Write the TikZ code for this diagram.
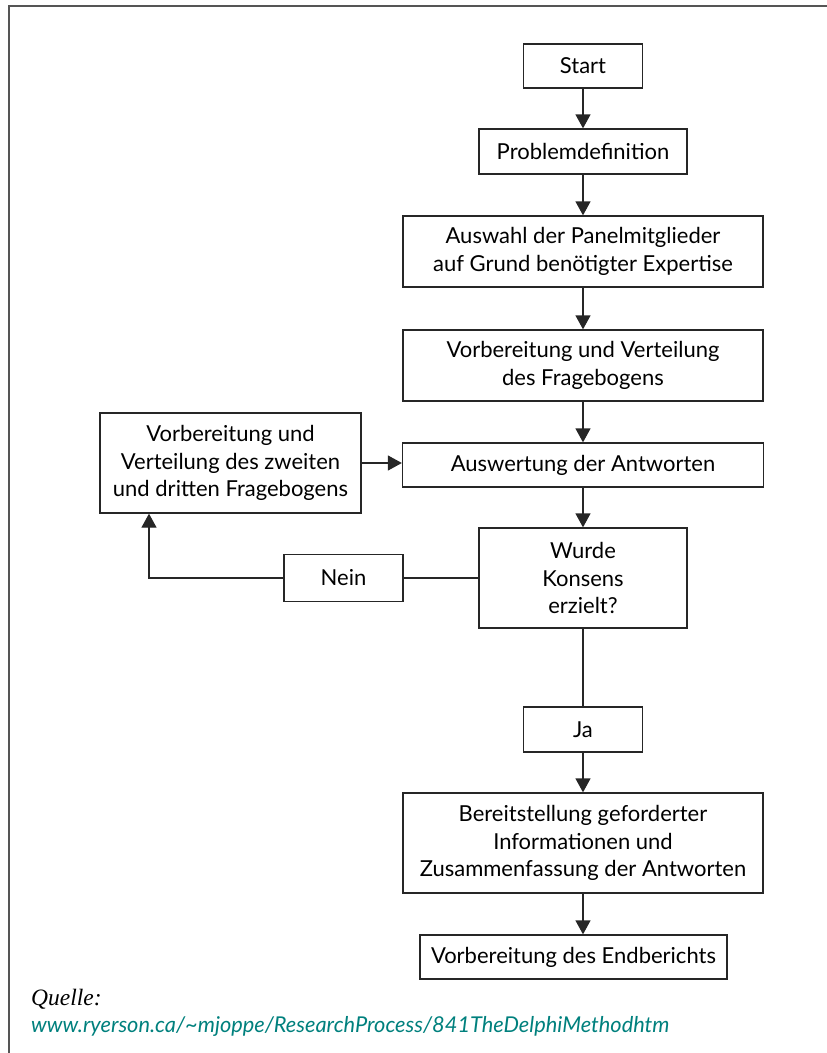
\documentclass[tikz,border=0pt]{standalone}
\usepackage{fontspec}
\usetikzlibrary{arrows.meta}
\newfontfamily\boxfont{Lato}
\newfontfamily\serffont{Liberation Serif}
\definecolor{frameg}{RGB}{85,85,85}
\definecolor{urlteal}{RGB}{0,128,125}
\begin{document}
\begin{tikzpicture}[x=1pt,y=-1pt,
  box/.style={draw=black!85, line width=1.3pt, inner sep=0pt, align=center,
    font=\boxfont\fontsize{22}{27.5}\selectfont},
  arr/.style={draw=black!85, line width=1.3pt, -{Triangle[length=14pt,width=15pt]}},
  ln/.style={draw=black!85, line width=1.3pt}]
\useasboundingbox (0,0) rectangle (827,1053);
\draw[frameg, line width=2pt] (8.5,1053) -- (8.5,5.5) -- (827,5.5);

\node[box, minimum width=119pt, minimum height=44pt] (start) at (583,66) {Start};
\node[box, minimum width=208pt, minimum height=45pt] (prob) at (583,151.5) {Problemdefinition};
\node[box, minimum width=360pt, minimum height=71pt] (ausw) at (583,251.5) {Auswahl der Panelmitglieder\\auf Grund benötigter Expertise};
\node[box, minimum width=360pt, minimum height=71pt] (vorb) at (583,365.5) {Vorbereitung und Verteilung\\des Fragebogens};
\node[box, minimum width=361pt, minimum height=44pt] (auswert) at (583,465) {Auswertung der Antworten};
\node[box, minimum width=261pt, minimum height=100pt] (left) at (230.5,463) {Vorbereitung und\\Verteilung des zweiten\\und dritten Fragebogens};
\node[box, minimum width=208pt, minimum height=100pt] (dec) at (583,578) {Wurde\\Konsens\\erzielt?};
\node[box, minimum width=119pt, minimum height=47pt] (nein) at (343.5,578) {Nein};
\node[box, minimum width=119pt, minimum height=45pt] (ja) at (583,729.5) {Ja};
\node[box, minimum width=360pt, minimum height=100pt] (bereit) at (583,843) {Bereitstellung geforderter\\Informationen und\\Zusammenfassung der Antworten};
\node[box, minimum width=307pt, minimum height=44pt] (end) at (573.5,957) {Vorbereitung des Endberichts};

\coordinate (lcorner) at (149,578);

\draw[arr] (start.south) -- (prob.north);
\draw[arr] (prob.south) -- (ausw.north);
\draw[arr] (ausw.south) -- (vorb.north);
\draw[arr] (vorb.south) -- (auswert.north);
\draw[arr] (auswert.south) -- (dec.north);
\draw[ln] (dec.south) -- (ja.north);
\draw[arr] (ja.south) -- (bereit.north);
\draw[arr] (bereit.south) -- (bereit.south |- end.north);
\draw[ln] (dec.west) -- (nein.east);
\draw[arr] (nein.west) -- (lcorner) -- (lcorner |- left.south);
\draw[arr] (left.east) -- (left.east -| auswert.west);

\node[anchor=base west, inner sep=0pt, font=\serffont\itshape\fontsize{23.5}{28}\selectfont] (quelle) at (31,1005) {Quelle:};
\node[anchor=base west, inner sep=0pt, text=urlteal, font=\boxfont\itshape\fontsize{21.8}{26}\selectfont] (url) at (31,1032) {www.ryerson.ca/\textasciitilde mjoppe/ResearchProcess/841TheDelphiMethodhtm};
\end{tikzpicture}
\end{document}
